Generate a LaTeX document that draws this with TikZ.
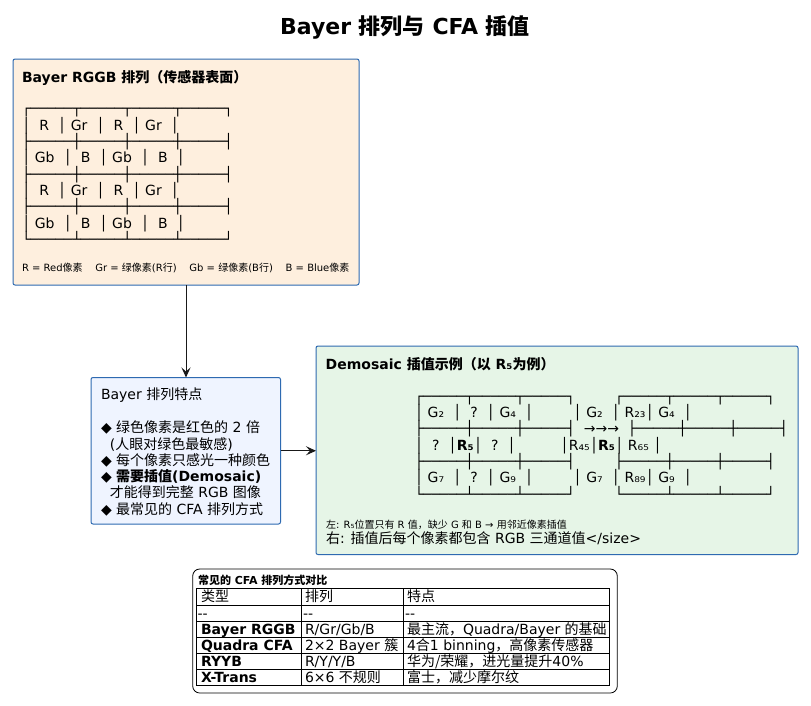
\documentclass[tikz,border=0pt]{standalone}
\usepackage{fontspec}
\setmainfont{DejaVu Sans}
\newfontfamily\cjk{Noto Sans CJK SC}
\usetikzlibrary{arrows.meta}
\newcommand\zh[1]{{\cjk #1}}
\newcommand\fs[1]{\fontsize{#1}{#1}\selectfont}
\definecolor{bord}{HTML}{2E6AB1}
\definecolor{peach}{HTML}{FEEFDE}
\definecolor{lblue}{HTML}{EFF4FF}
\definecolor{lgreen}{HTML}{E6F5E7}
\newcounter{tl}
\newcommand\TL[4][]{\stepcounter{tl}\node[txt,#1] (t\arabic{tl}) at (#2,#3) {#4};}
\begin{document}
\begin{tikzpicture}[x=1pt,y=-1pt,
  txt/.style={anchor=base west,inner sep=0pt,outer sep=0pt,font=\fs{14}},
  box/.style={draw=bord,line width=1pt,rounded corners=2pt,inner sep=0pt,outer sep=0pt,anchor=north west},
  conn/.style={draw=black!90,line width=1pt,-{Stealth[length=10pt,width=9pt,inset=4pt]}},
  tab/.style={draw=black,line width=0.8pt}]
\fill[white] (0,0) rectangle (811,705);
\useasboundingbox (0,0) rectangle (811,705);

% title
\node[anchor=base,inner sep=0pt,font=\fs{22}\bfseries] (title) at (405,34.5) {Bayer \zh{排列与} CFA \zh{插值}};

% boxes
\node[box,fill=peach,minimum width=346pt,minimum height=226pt] (b1) at (13,59) {};
\node[box,fill=lblue,minimum width=189.5pt,minimum height=146.5pt] (b2) at (91,377.5) {};
\node[box,fill=lgreen,minimum width=482pt,minimum height=208.5pt] (b3) at (316,346) {};
\node[draw=black,line width=0.8pt,rounded corners=7pt,inner sep=0pt,outer sep=0pt,anchor=north west,minimum width=424.6pt,minimum height=124pt] (b4) at (192.7,569) {};

% connectors
\draw[conn] (b1.south) -- (b1.south |- b2.north);
\draw[conn] (b2.east) -- (b2.east -| b3.west);

% box 1 content
\TL[font=\fs{14}\bfseries]{22}{82.5}{Bayer RGGB \zh{排列（传感器表面）}}
\TL{22}{113.9}{┌─────┬─────┬─────┬─────┐}
\TL{22}{130.2}{│~~R~~│~Gr~~│~~R~~│~Gr~~│}
\TL{22}{146.5}{├─────┼─────┼─────┼─────┤}
\TL{22}{162.8}{│~Gb~~│~~B~~│~Gb~~│~~B~~│}
\TL{22}{179.1}{├─────┼─────┼─────┼─────┤}
\TL{22}{195.4}{│~~R~~│~Gr~~│~~R~~│~Gr~~│}
\TL{22}{211.7}{├─────┼─────┼─────┼─────┤}
\TL{22}{228.0}{│~Gb~~│~~B~~│~Gb~~│~~B~~│}
\TL{22}{244.3}{└─────┴─────┴─────┴─────┘}
\TL[font=\fs{10}]{22}{271.6}{R = Red\zh{像素}~~~~Gr = \zh{绿像素}(R\zh{行})~~~~Gb = \zh{绿像素}(B\zh{行})~~~~B = Blue\zh{像素}}

% box 2 content
\TL{101}{399.4}{Bayer \zh{排列特点}}
\TL{101}{432.7}{◆ \zh{绿色像素是红色的} 2 \zh{倍}}
\TL{101}{449.0}{~~(\zh{人眼对绿色最敏感})}
\TL{101}{465.3}{◆ \zh{每个像素只感光一种颜色}}
\TL{101}{481.6}{◆ \textbf{\zh{需要插值}(Demosaic)}}
\TL{101}{497.9}{~~\zh{才能得到完整} RGB \zh{图像}}
\TL{101}{514.2}{◆ \zh{最常见的} CFA \zh{排列方式}}

% box 3 content
\TL[font=\fs{14}\bfseries]{325.7}{369.4}{Demosaic \zh{插值示例（以} R₅\zh{为例）}}
\TL{414.8}{401.2}{┌─────┬─────┬─────┐~~~~~~~~~┌─────┬─────┬─────┐}
\TL{414.8}{417.5}{│~G₂~~│~~?~~│~G₄~~│~~~~~~~~~│~G₂~~│~R₂₃│~G₄~~│}
\TL{414.8}{433.8}{├─────┼─────┼─────┤~~→→→~~├─────┼─────┼─────┤}
\TL{414.8}{450.1}{│~~?~~│\textbf{R₅}│~~?~~│~~~~~~~~~~│R₄₅│\textbf{R₅}│~R₆₅~│}
\TL{414.8}{466.4}{├─────┼─────┼─────┤~~~~~~~~~├─────┼─────┼─────┤}
\TL{414.8}{482.7}{│~G₇~~│~~?~~│~G₉~~│~~~~~~~~~│~G₇~~│~R₈₉│~G₉~~│}
\TL{414.8}{499.0}{└─────┴─────┴─────┘~~~~~~~~~└─────┴─────┴─────┘}
\TL[font=\fs{10}]{326}{528.6}{\zh{左}: R₅\zh{位置只有} R \zh{值，缺少} G \zh{和} B → \zh{用邻近像素插值}}
\TL{326}{543.5}{\zh{右}: \zh{插值后每个像素都包含} RGB \zh{三通道值}</size>}

% table
\TL[font=\fs{11}\bfseries]{198}{584}{\zh{常见的} CFA \zh{排列方式对比}}
\draw[tab] (196,588) rectangle (609.5,685.5);
\foreach \yy in {605,621,637.5,653.5,669.5} \draw[tab] (196,\yy) -- (609.5,\yy);
\foreach \xx in {301.5,403.5} \draw[tab] (\xx,588) -- (\xx,685.5);
\TL{201}{601.5}{\zh{类型}}
\TL{305}{601.5}{\zh{排列}}
\TL{407}{601.5}{\zh{特点}}
\TL{197.5}{618}{-{}-}
\TL{303}{618}{-{}-}
\TL{405}{618}{-{}-}
\TL[font=\fs{14}\bfseries]{201}{634.5}{Bayer RGGB}
\TL{305}{634.5}{R/Gr/Gb/B}
\TL{407}{634.5}{\zh{最主流，}Quadra/Bayer \zh{的基础}}
\TL[font=\fs{14}\bfseries]{201}{650.5}{Quadra CFA}
\TL{305}{650.5}{2×2 Bayer \zh{簇}}
\TL{407}{650.5}{4\zh{合}1 binning\zh{，高像素传感器}}
\TL[font=\fs{14}\bfseries]{201}{666.5}{RYYB}
\TL{305}{666.5}{R/Y/Y/B}
\TL{407}{666.5}{\zh{华为/荣耀，进光量提升}40\%}
\TL[font=\fs{14}\bfseries]{201}{682.5}{X-Trans}
\TL{305}{682.5}{6×6 \zh{不规则}}
\TL{407}{682.5}{\zh{富士，减少摩尔纹}}
\end{tikzpicture}
\end{document}
